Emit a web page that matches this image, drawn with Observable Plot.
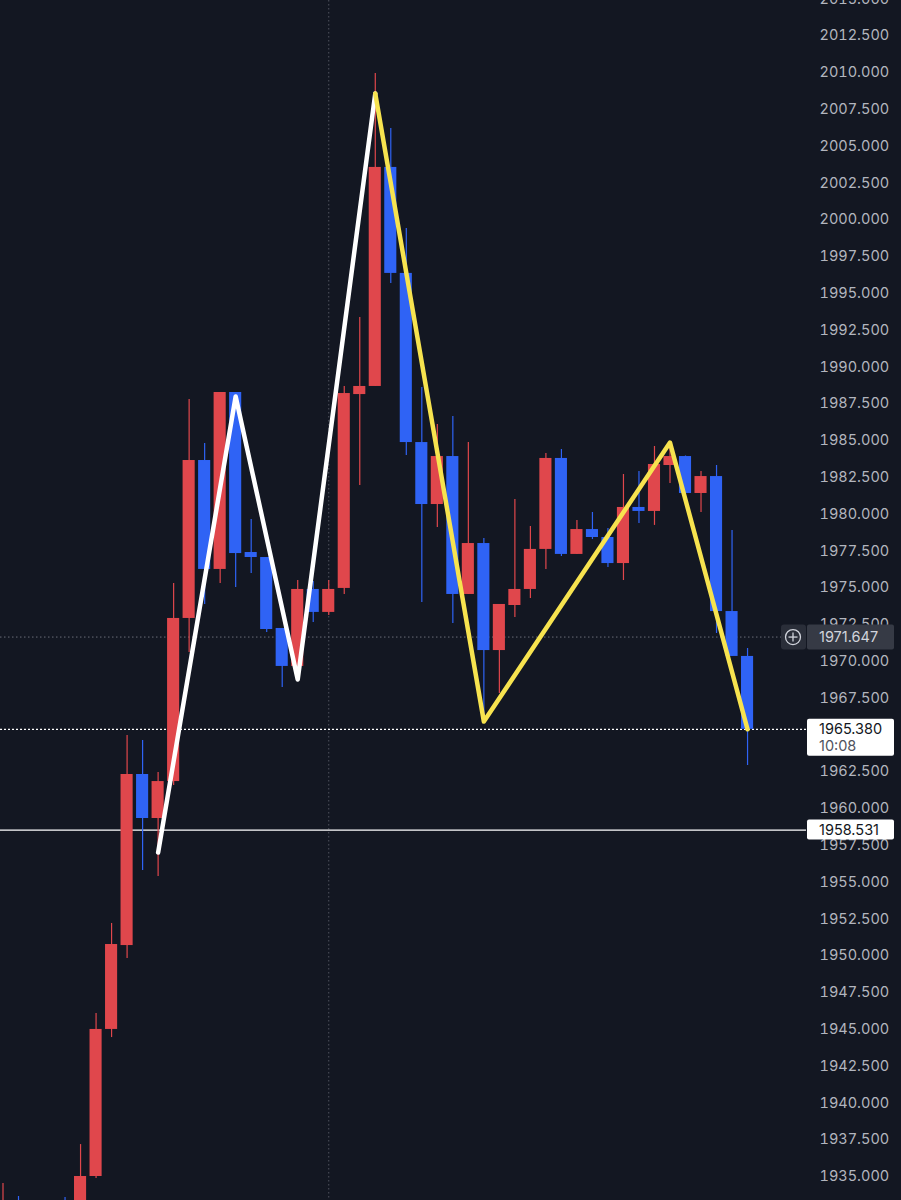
<!DOCTYPE html>
<html><head><meta charset="utf-8">
<script src="https://cdn.jsdelivr.net/npm/d3@7"></script>
<script src="https://cdn.jsdelivr.net/npm/@observablehq/plot@0.6"></script>
<style>
html,body{margin:0;padding:0;background:#131722;overflow:hidden;}
svg{display:block;}
</style></head><body><div id="chart"></div>
<script>
// Candle OHLC values (index = position in array)
const opens  = [1931.8,1933.2,1931.5,1932.0,1933.2,1932.5,1935.00,1944.99,1950.69,1962.31,1959.32,1961.83,1972.91,1983.64,1976.24,1988.26,1977.39,1977.05,1972.23,1969.65,1974.88,1973.32,1974.95,1988.12,1988.67,2003.55,1996.35,1984.86,1980.65,1983.91,1974.54,1978.00,1970.73,1973.79,1974.88,1977.60,1983.78,1977.26,1978.95,1978.41,1976.64,1980.45,1980.18,1983.30,1983.91,1981.40,1982.55,1973.38,1970.33];
const highs  = [1934.52,1933.64,1933.0,1933.2,1933.57,1937.17,1946.07,1952.19,1964.96,1964.62,1962.45,1975.29,1987.79,1984.80,1988.26,1988.26,1979.63,1977.05,1972.23,1975.49,1975.42,1975.49,1988.67,1993.36,2009.93,2006.20,1999.40,1988.60,1986.09,1986.63,1984.86,1978.34,1973.86,1980.99,1979.16,1984.12,1984.39,1979.57,1980.11,1979.02,1982.69,1982.89,1984.59,1984.86,1983.95,1982.89,1983.30,1978.89,1970.87];
const lows   = [1931.0,1931.5,1931.0,1931.5,1931.5,1932.0,1934.86,1944.44,1949.81,1955.79,1955.38,1961.56,1970.60,1973.86,1975.29,1975.01,1975.96,1971.96,1968.22,1969.65,1972.64,1973.11,1974.54,1981.94,1988.67,1995.67,1983.98,1973.99,1979.09,1972.57,1974.54,1966.18,1967.81,1972.98,1974.27,1976.24,1977.12,1977.26,1978.27,1976.37,1975.49,1979.36,1979.23,1982.08,1981.40,1980.11,1971.89,1970.33,1962.92];
const closes = [1933.2,1932.2,1932.8,1933.0,1932.0,1935.00,1944.99,1950.76,1962.31,1959.32,1961.83,1972.91,1983.64,1976.24,1988.26,1977.32,1977.05,1972.16,1969.65,1974.88,1973.32,1974.88,1988.19,1988.67,2003.55,1996.35,1984.86,1980.65,1983.91,1974.54,1978.00,1970.73,1973.86,1974.88,1977.60,1983.78,1977.26,1978.95,1978.41,1976.64,1980.45,1980.18,1983.37,1983.91,1981.40,1982.55,1973.38,1970.33,1965.38];

// Zigzag pattern lines (candle index, price)
const whiteIdx = [10, 15, 19, 24];
const whiteVal = [1957.01, 1987.99, 1968.76, 2008.57];
const yellowIdx = [24, 31, 43, 48];
const yellowVal = [2008.57, 1965.91, 1984.86, 1965.38];

// Price lines / labels
const crossPrice = 1971.647;
const lastPrice = 1965.380;
const countdown = "10:08";
const linePrice = 1958.531;
const crossIdx = 21;

// Axis ticks
const yTicks = [1935,1937.5,1940,1942.5,1945,1947.5,1950,1952.5,1955,1957.5,1960,1962.5,1965,1967.5,1970,1972.5,1975,1977.5,1980,1982.5,1985,1987.5,1990,1992.5,1995,1997.5,2000,2002.5,2005,2007.5,2010,2012.5,2015];

const UP = "#e0474c", DOWN = "#2f63f5";
const candles = opens.map((o, i) => ({i, open: o, high: highs[i], low: lows[i], close: closes[i], up: closes[i] >= o}));
const whitePts = whiteIdx.map((i, k) => ({i, v: whiteVal[k]}));
const yellowPts = yellowIdx.map((i, k) => ({i, v: yellowVal[k]}));

const chart = Plot.plot({
  width: 901, height: 1200,
  marginLeft: 0, marginRight: 95, marginTop: 0, marginBottom: 0,
  style: {background: "#131722", color: "#b2b5be", fontFamily: "Inter, Roboto, sans-serif", fontSize: "14.5px", overflow: "visible"},
  x: {type: "linear", domain: [-0.161, 51.80], axis: null},
  y: {domain: [1933.37, 2014.89], axis: "right", ticks: yTicks, tickFormat: d => d.toFixed(3), tickSize: 0, tickPadding: 13, label: null},
  marks: [
    Plot.ruleX([crossIdx], {stroke: "#50535e", strokeDasharray: "1.5,2.5", strokeWidth: 1}),
    Plot.ruleY([crossPrice], {stroke: "#6a6d78", strokeDasharray: "1.5,2.5", strokeWidth: 1}),
    Plot.ruleY([lastPrice], {stroke: "#ffffff", strokeDasharray: "2,2", strokeWidth: 1.2}),
    Plot.ruleY([linePrice], {stroke: "#ffffff", strokeWidth: 1.2}),
    Plot.ruleX(candles, {x: "i", y1: "low", y2: "high", stroke: d => d.up ? UP : DOWN, strokeWidth: 1.2, clip: true}),
    Plot.rect(candles, {x1: d => d.i - 0.39, x2: d => d.i + 0.39, y1: d => Math.min(d.open, d.close), y2: d => Math.max(d.open, d.close), fill: d => d.up ? UP : DOWN, clip: true}),
    Plot.line(whitePts, {x: "i", y: "v", stroke: "#ffffff", strokeWidth: 4.5, strokeLinejoin: "round", strokeLinecap: "round"}),
    Plot.line(yellowPts, {x: "i", y: "v", stroke: "#f7e34f", strokeWidth: 4.5, strokeLinejoin: "round", strokeLinecap: "round"})
  ]
});
document.getElementById("chart").appendChild(chart);

// Price tags in the right axis area, positioned with the chart's y scale
const ys = chart.scale("y");
const svg = d3.select(chart);
const g = svg.append("g").attr("font-family", "Inter, Roboto, sans-serif").attr("font-size", "14.5px").attr("text-anchor", "start");
const axX = 806;

// crosshair price tag with plus button
const yc = ys.apply(crossPrice);
g.append("rect").attr("x", axX - 25).attr("y", yc - 12).attr("width", 25).attr("height", 25).attr("rx", 3).attr("fill", "#2a2e39");
g.append("circle").attr("cx", axX - 13).attr("cy", yc + 0.5).attr("r", 7.5).attr("fill", "none").attr("stroke", "#d1d4dc").attr("stroke-width", 1.3);
g.append("line").attr("x1", axX - 17.5).attr("x2", axX - 8.5).attr("y1", yc + 0.5).attr("y2", yc + 0.5).attr("stroke", "#d1d4dc").attr("stroke-width", 1.3);
g.append("line").attr("x1", axX - 13).attr("x2", axX - 13).attr("y1", yc - 4).attr("y2", yc + 5).attr("stroke", "#d1d4dc").attr("stroke-width", 1.3);
g.append("rect").attr("x", axX + 1).attr("y", yc - 12).attr("width", 87).attr("height", 25).attr("rx", 2).attr("fill", "#363a45");
g.append("text").attr("x", axX + 13).attr("y", yc + 5.5).attr("fill", "#d1d4dc").text(crossPrice.toFixed(3));

// last price tag with countdown
const yl = ys.apply(lastPrice);
g.append("rect").attr("x", axX + 1).attr("y", yl - 10).attr("width", 87).attr("height", 37).attr("rx", 2).attr("fill", "#ffffff");
g.append("text").attr("x", axX + 13).attr("y", yl + 5.5).attr("fill", "#131722").text(lastPrice.toFixed(3));
g.append("text").attr("x", axX + 13).attr("y", yl + 22).attr("fill", "#50535e").text(countdown);

// horizontal line price tag
const yh = ys.apply(linePrice);
g.append("rect").attr("x", axX + 1).attr("y", yh - 10).attr("width", 87).attr("height", 20).attr("rx", 2).attr("fill", "#ffffff");
g.append("text").attr("x", axX + 13).attr("y", yh + 5.5).attr("fill", "#131722").text(linePrice.toFixed(3));
</script></body></html>
